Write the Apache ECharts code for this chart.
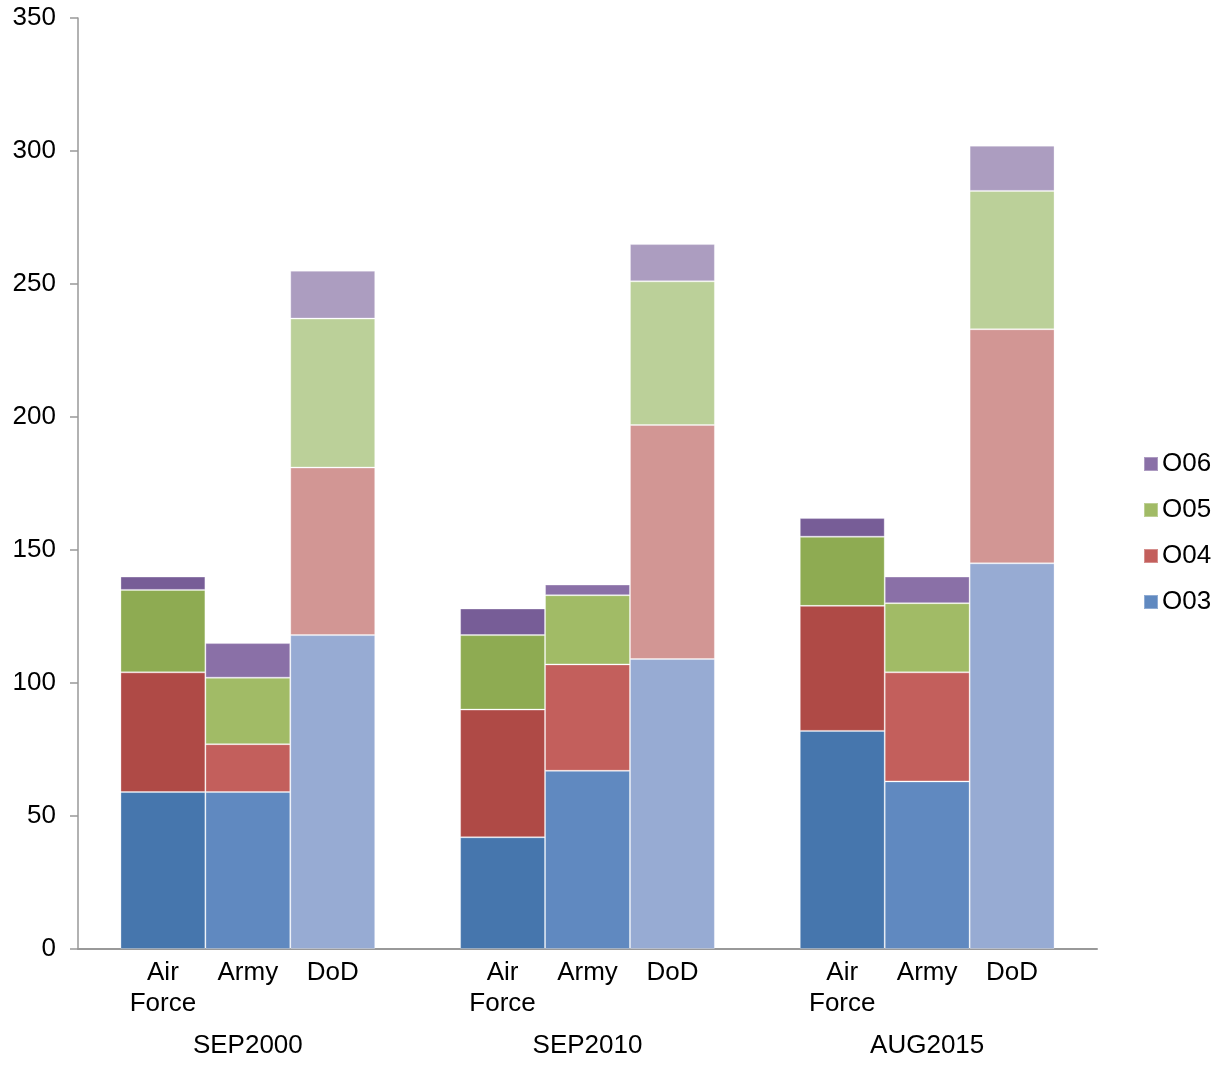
<!DOCTYPE html>
<html>
<head>
<meta charset="utf-8">
<script src="https://cdn.jsdelivr.net/npm/echarts@6/dist/echarts.min.js"></script>
<style>
html,body{margin:0;padding:0;background:#fff;}
#chart{width:1224px;height:1066px;}
</style>
</head>
<body>
<div id="chart"></div>
<script>
// ---- data ----
const groups = ['SEP2000', 'SEP2010', 'AUG2015'];
const branches = ['Air\nForce', 'Army', 'DoD'];
const seriesNames = ['O03', 'O04', 'O05', 'O06'];
// values per bar: [AF, Army, DoD] x 3 groups
const o03 = [59, 59, 118, 42, 67, 109, 82, 63, 145];
const o04 = [45, 18, 63, 48, 40, 88, 47, 41, 88];
const o05 = [31, 25, 56, 28, 26, 54, 26, 26, 52];
const o06 = [5, 13, 18, 10, 4, 14, 7, 10, 17];
const yTicks = [0, 50, 100, 150, 200, 250, 300, 350];

// ---- colours per branch (AF, Army, DoD) ----
const colors = {
  O03: ['#4676AD', '#6089C0', '#97ABD3'],
  O04: ['#AF4A46', '#C35F5C', '#D29694'],
  O05: ['#8EAB52', '#A1BB66', '#BBD099'],
  O06: ['#775D97', '#8A70A7', '#AC9DC0']
};
const values = { O03: o03, O04: o04, O05: o05, O06: o06 };

// build category slots: blank separators between groups
const cats = [''];
const groupLabels = [''];
groups.forEach((g, gi) => {
  branches.forEach((b, bi) => {
    cats.push(b);
    groupLabels.push(bi === 1 ? g : '');
  });
  cats.push('');
  groupLabels.push('');
});

function buildData(name) {
  const arr = [null];
  const v = values[name];
  groups.forEach((g, gi) => {
    branches.forEach((b, bi) => {
      arr.push({ value: v[gi * 3 + bi], itemStyle: { color: colors[name][bi] } });
    });
    arr.push(null);
  });
  return arr;
}

const FONT = '"Liberation Sans", Arial, sans-serif';
const FS = 26;
const chart = echarts.init(document.getElementById('chart'));
chart.setOption({
  animation: false,
  textStyle: { fontFamily: FONT },
  grid: { left: 78, right: 127, top: 18, bottom: 117, containLabel: false },
  legend: {
    orient: 'vertical',
    left: 1143,
    top: 451,
    padding: 0,
    data: ['O06', 'O05', 'O04', 'O03'],
    icon: 'rect',
    itemWidth: 14,
    itemHeight: 14,
    itemGap: 20,
    textStyle: { fontSize: FS, color: '#000', fontFamily: FONT, lineHeight: 26, padding: [0, 0, 0, -1] }
  },
  xAxis: [
    {
      type: 'category',
      data: cats,
      boundaryGap: false,
      axisLine: { lineStyle: { color: '#999', width: 2 } },
      axisTick: { show: false },
      axisLabel: { interval: 0, fontSize: FS, color: '#000', lineHeight: 31, margin: 8, fontFamily: FONT }
    },
    {
      type: 'category',
      data: groupLabels,
      position: 'bottom',
      boundaryGap: false,
      axisLine: { show: false },
      axisTick: { show: false },
      axisLabel: { interval: 0, fontSize: FS, color: '#000', lineHeight: 31, margin: 81, fontFamily: FONT }
    }
  ],
  yAxis: {
    type: 'value',
    min: 0,
    max: 350,
    interval: 50,
    axisLine: { show: true, lineStyle: { color: '#999', width: 1.5 } },
    axisTick: { show: true, length: 8, lineStyle: { color: '#999', width: 1.5 } },
    splitLine: { show: false },
    axisLabel: { fontSize: FS, color: '#000', margin: 22, fontFamily: FONT,
      formatter: v => (yTicks.indexOf(v) >= 0 ? String(v) : '') }
  },
  series: seriesNames.map(name => ({
    name: name,
    type: 'bar',
    stack: 'total',
    xAxisIndex: 0,
    barWidth: '100%',
    itemStyle: { color: colors[name][1], borderColor: 'rgba(255,255,255,0.3)', borderWidth: 1 },
    data: buildData(name)
  }))
});
</script>
</body>
</html>
